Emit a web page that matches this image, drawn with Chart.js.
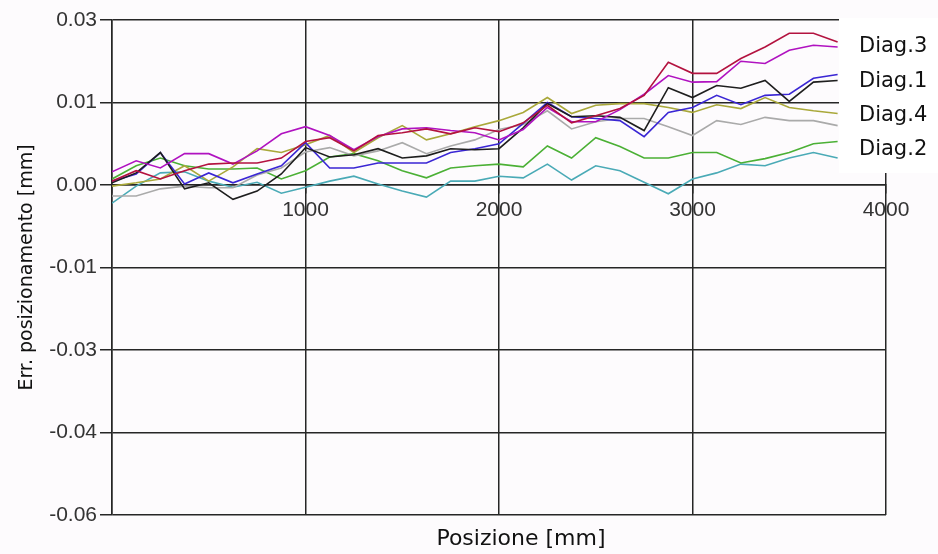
<!DOCTYPE html>
<html lang="it">
<head>
  <meta charset="UTF-8" />
  <title>Err. posizionamento</title>
  <script src="https://cdn.jsdelivr.net/npm/chart.js"></script>
  <style>
    html, body { margin: 0; padding: 0; background: #fdfbfd; }
    #wrap { width: 938px; height: 554px; position: relative; }
  </style>
</head>
<body>
  <div id="wrap"><canvas id="errChart"></canvas></div>

  <script>
    // posizioni di misura [mm]
    const positions = [0, 125, 250, 375, 500, 625, 750, 875, 1000, 1125, 1250, 1375, 1500, 1625, 1750, 1875,
      2000, 2125, 2250, 2375, 2500, 2625, 2750, 2875, 3000, 3125, 3250, 3375, 3500, 3625, 3750];

    // errori [mm]
    const diag3a = [0.0007, 0.0026, 0.0011, 0.0026, 0.0038, 0.0040, 0.0040, 0.0049, 0.0079, 0.0086, 0.0062, 0.0090, 0.0095, 0.0102, 0.0093, 0.0104,
      0.0097, 0.0113, 0.0145, 0.0113, 0.0126, 0.0139, 0.0163, 0.0223, 0.0203, 0.0203, 0.0230, 0.0251, 0.0276, 0.0276, 0.0260];
    const diag3b = [0.0024, 0.0044, 0.0031, 0.0057, 0.0057, 0.0038, 0.0062, 0.0093, 0.0106, 0.0090, 0.0064, 0.0088, 0.0102, 0.0104, 0.0099, 0.0095,
      0.0082, 0.0101, 0.0141, 0.0115, 0.0115, 0.0137, 0.0165, 0.0199, 0.0187, 0.0188, 0.0225, 0.0221, 0.0245, 0.0254, 0.0251];
    const diag1a = [0.0004, 0.0022, 0.0059, -0.0007, 0.0004, -0.0026, -0.0011, 0.0020, 0.0068, 0.0051, 0.0055, 0.0066, 0.0049, 0.0053, 0.0066, 0.0064,
      0.0066, 0.0104, 0.0148, 0.0124, 0.0126, 0.0123, 0.0099, 0.0177, 0.0159, 0.0181, 0.0176, 0.0190, 0.0152, 0.0187, 0.0190];
    const diag1b = [0.0007, 0.0020, 0.0059, 0.0002, 0.0022, 0.0004, 0.0020, 0.0035, 0.0077, 0.0031, 0.0031, 0.0040, 0.0040, 0.0040, 0.0059, 0.0066,
      0.0075, 0.0112, 0.0150, 0.0124, 0.0121, 0.0117, 0.0088, 0.0132, 0.0141, 0.0163, 0.0146, 0.0163, 0.0165, 0.0194, 0.0201];
    const diag4a = [-0.0002, 0.0004, 0.0011, 0.0035, 0.0007, 0.0033, 0.0066, 0.0059, 0.0073, 0.0090, 0.0059, 0.0086, 0.0108, 0.0082, 0.0093, 0.0106,
      0.0117, 0.0132, 0.0159, 0.0130, 0.0145, 0.0148, 0.0148, 0.0141, 0.0132, 0.0146, 0.0139, 0.0159, 0.0141, 0.0135, 0.0130];
    const diag4b = [-0.0020, -0.0020, -0.0007, -0.0002, -0.0005, -0.0005, 0.0018, 0.0031, 0.0060, 0.0068, 0.0053, 0.0062, 0.0077, 0.0057, 0.0071, 0.0082,
      0.0101, 0.0110, 0.0135, 0.0102, 0.0115, 0.0121, 0.0121, 0.0106, 0.0090, 0.0117, 0.0110, 0.0123, 0.0117, 0.0117, 0.0108];
    const diag2a = [0.0011, 0.0035, 0.0049, 0.0035, 0.0029, 0.0029, 0.0031, 0.0011, 0.0026, 0.0051, 0.0057, 0.0044, 0.0026, 0.0013, 0.0031, 0.0035,
      0.0038, 0.0033, 0.0071, 0.0049, 0.0086, 0.0070, 0.0049, 0.0049, 0.0059, 0.0059, 0.0040, 0.0048, 0.0059, 0.0075, 0.0079];
    const diag2b = [-0.0033, -0.0002, 0.0022, 0.0024, 0.0007, -0.0004, 0.0005, -0.0015, -0.0004, 0.0007, 0.0016, 0.0002, -0.0011, -0.0022, 0.0007, 0.0007,
      0.0016, 0.0013, 0.0038, 0.0009, 0.0035, 0.0026, 0.0005, -0.0016, 0.0011, 0.0022, 0.0038, 0.0035, 0.0049, 0.0059, 0.0049];

    const legendNames = ["Diag.3", "Diag.1", "Diag.4", "Diag.2"];
    const xTickLabels = ["", "1000", "2000", "3000", "4000"];
    const yTickLabels = ["0.03", "0.01", "0.00", "-0.01", "-0.03", "-0.04", "-0.06"]; // dall'alto in basso

    const toPoints = (vals) => positions.map((p, i) => ({ x: p, y: vals[i] }));

    const series = [
      { label: "Diag.3", values: diag3a, color: "#b3123f" },
      { label: "Diag.3", values: diag3b, color: "#b012c0" },
      { label: "Diag.1", values: diag1a, color: "#1e1e1e" },
      { label: "Diag.1", values: diag1b, color: "#3a26d4" },
      { label: "Diag.4", values: diag4a, color: "#a9a83a" },
      { label: "Diag.4", values: diag4b, color: "#aaaaaa" },
      { label: "Diag.2", values: diag2a, color: "#4bb035" },
      { label: "Diag.2", values: diag2b, color: "#4aaab6" },
    ];

    const gridColor = "#262626";
    const tickFont = { family: "'Liberation Sans', Arial, sans-serif", size: 21 };

    // sfondo + legenda a destra
    const bgPlugin = {
      id: "bg",
      beforeDraw(chart) {
        const { ctx, width, height } = chart;
        ctx.save();
        ctx.fillStyle = "#fdfbfd";
        ctx.fillRect(0, 0, width, height);
        ctx.restore();
      },
      afterLayout(chart) {
        // il titolo in basso e' spostato un po' a destra nell'originale
        const s = chart.scales.x2;
        s.left += 22;
        s.right += 22;
      }
    };

    const sideLegend = {
      id: "sideLegend",
      afterDraw(chart) {
        const { ctx, chartArea, width } = chart;
        const left = chartArea.right - 47;
        ctx.save();
        ctx.fillStyle = "#ffffff";
        ctx.fillRect(left, chartArea.top - 2, width - left, 155);
        ctx.fillStyle = "#111111";
        ctx.font = "21px 'DejaVu Sans', Verdana, sans-serif";
        ctx.textBaseline = "middle";
        ctx.textAlign = "left";
        legendNames.forEach((name, i) => {
          ctx.fillText(name, left + 20, chartArea.top + 27 + i * 34.3);
        });
        ctx.restore();
      }
    };

    new Chart(document.getElementById("errChart"), {
      type: "line",
      data: {
        datasets: series.map(s => ({
          label: s.label,
          data: toPoints(s.values),
          borderColor: s.color,
          backgroundColor: s.color,
          borderWidth: 1.6,
          pointRadius: 0,
          tension: 0,
          fill: false
        }))
      },
      options: {
        responsive: true,
        maintainAspectRatio: false,
        animation: false,
        layout: { padding: { top: 20, right: 52, bottom: 0, left: 0 } },
        plugins: {
          legend: { display: false },
          tooltip: { enabled: false }
        },
        scales: {
          x: {
            type: "linear",
            position: { y: 0 },
            min: 0,
            max: 4000,
            ticks: {
              stepSize: 1000,
              font: tickFont,
              color: "#333",
              padding: 5,
              maxRotation: 0,
              callback: (v, i) => xTickLabels[i]
            },
            grid: { color: gridColor, lineWidth: 1.5, tickLength: 8 },
            border: { color: gridColor, width: 1.5 }
          },
          x2: {
            type: "linear",
            position: "bottom",
            min: 0,
            max: 4000,
            ticks: { display: false },
            grid: { display: false },
            border: { display: false },
            title: {
              display: true,
              text: "Posizione [mm]",
              font: { family: "'DejaVu Sans', Verdana, sans-serif", size: 22 },
              color: "#111",
              padding: { top: 0, bottom: 2 }
            },
            afterFit: (scale) => { scale.height = 39; }
          },
          y: {
            min: -0.06,
            max: 0.03,
            ticks: {
              stepSize: 0.015,
              font: tickFont,
              color: "#333",
              padding: 3,
              callback: (v, i, ticks) => yTickLabels[ticks.length - 1 - i]
            },
            grid: { color: gridColor, lineWidth: 1.5, tickLength: 12 },
            border: { color: gridColor, width: 1.5 },
            title: {
              display: true,
              text: "Err. posizionamento [mm]",
              font: { family: "'DejaVu Sans', Verdana, sans-serif", size: 19 },
              color: "#111",
              padding: { top: 16, bottom: 0 }
            },
            afterFit: (scale) => { scale.width = 112; }
          }
        }
      },
      plugins: [bgPlugin, sideLegend]
    });
  </script>
</body>
</html>
